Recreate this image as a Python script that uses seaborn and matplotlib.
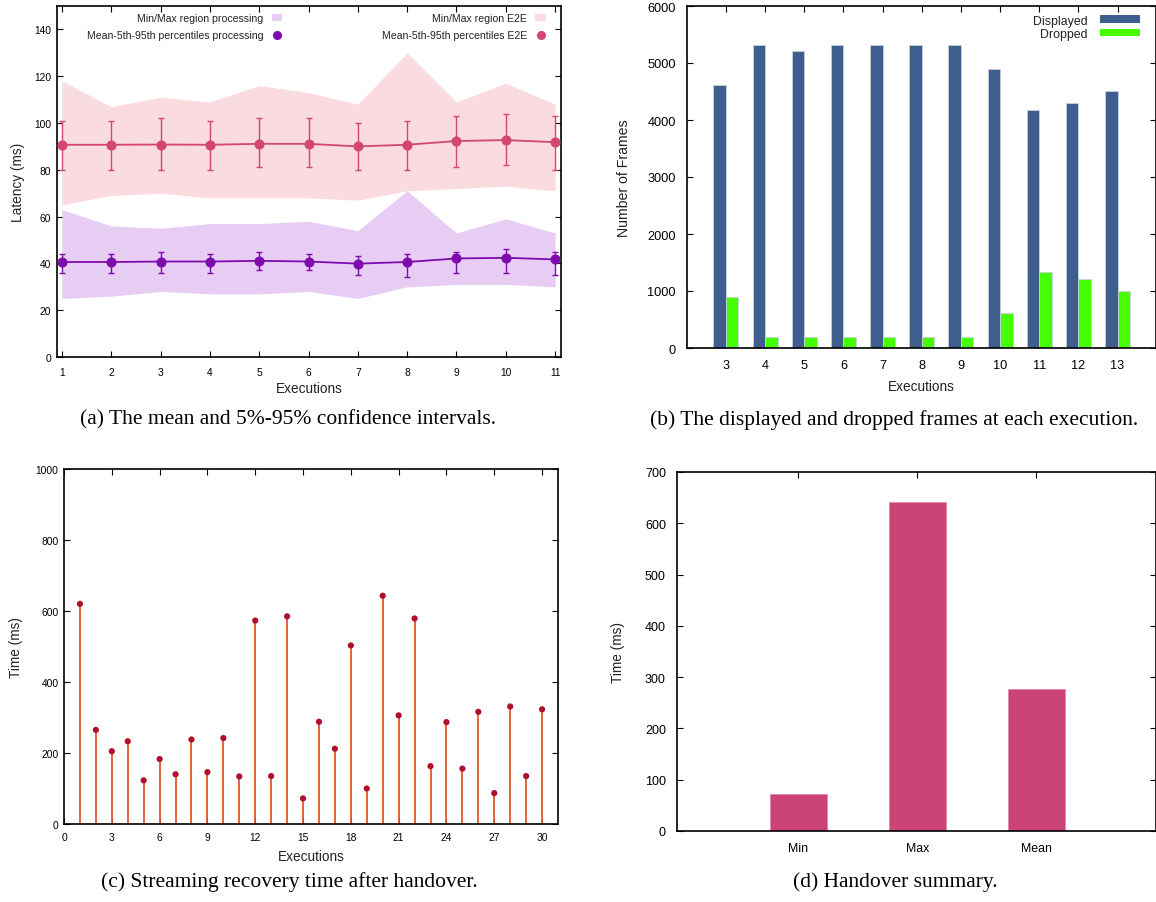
import numpy as np
import pandas as pd
import matplotlib
matplotlib.use("Agg")
import matplotlib.pyplot as plt
from matplotlib.patches import Patch, Rectangle
from matplotlib.lines import Line2D
import seaborn as sns

# ---------------- data ----------------
# (a) latency
exec_a = [1, 2, 3, 4, 5, 6, 7, 8, 9, 10, 11]
e2e_mean = [90.7, 90.7, 90.8, 90.7, 91.1, 91.1, 90.0, 90.7, 92.3, 92.7, 91.8]
e2e_p5 = [80, 80, 80, 80, 81, 81, 80, 80, 81, 82, 80]
e2e_p95 = [101, 101, 102, 101, 102, 102, 100, 101, 103, 104, 103]
e2e_min = [65, 69, 70, 68, 68, 68, 67, 71, 72, 73, 71]
e2e_max = [118, 107, 111, 109, 116, 113, 108, 130, 109, 117, 108]
proc_mean = [40.6, 40.6, 40.8, 40.8, 41.1, 40.8, 39.9, 40.6, 42.1, 42.4, 41.7]
proc_p5 = [36, 36, 36, 36, 37, 37, 35, 34, 36, 36, 35]
proc_p95 = [44, 44, 45, 44, 45, 44, 43, 44, 45, 46, 45]
proc_min = [25, 26, 28, 27, 27, 28, 25, 30, 31, 31, 30]
proc_max = [63, 56, 55, 57, 57, 58, 54, 71, 53, 59, 53]

# (b) frames
exec_b = ["3", "4", "5", "6", "7", "8", "9", "10", "11", "12", "13"]
displayed = [4610, 5310, 5210, 5310, 5310, 5310, 5310, 4890, 4180, 4290, 4510]
dropped = [890, 190, 185, 190, 190, 190, 190, 610, 1330, 1210, 1000]

# (c) recovery time
exec_c = list(range(1, 31))
recovery = [620, 265, 205, 233, 123, 183, 140, 238, 146, 242,
            134, 573, 135, 585, 72, 288, 212, 503, 100, 643,
            306, 579, 163, 287, 156, 316, 87, 331, 135, 323]

# (d) handover summary
summary_cats = ["Min", "Max", "Mean"]
summary_vals = [73, 642, 277]

# ---------------- style ----------------
sns.set_theme(style="ticks")
plt.rcParams["font.family"] = ["Liberation Sans", "DejaVu Sans"]
plt.rcParams.update({
    "xtick.direction": "in", "ytick.direction": "in",
    "xtick.top": True, "ytick.right": True,
    "axes.linewidth": 1.2, "axes.edgecolor": "black",
    "xtick.color": "black", "ytick.color": "black",
    "xtick.major.size": 4, "ytick.major.size": 4,
    "xtick.major.width": 0.8, "ytick.major.width": 0.8,
    "text.color": "#222222", "axes.labelcolor": "#222222",
})

W, H = 1156, 903
fig = plt.figure(figsize=(W / 100, H / 100), dpi=100)


def box(l, t, r, b):
    return [l / W, 1 - b / H, (r - l) / W, (b - t) / H]


cap_font = dict(family=["Liberation Serif", "DejaVu Serif"], fontsize=15.5, color="black")
LAB = 9.8

# ---------------- (a) ----------------
axa = fig.add_axes(box(57, 7, 561, 358))
c_e2e, f_e2e = "#d2466f", "#f9dbe0"
c_proc, f_proc = "#7d0aad", "#e7ccf3"
axa.fill_between(exec_a, e2e_min, e2e_max, color=f_e2e, lw=0, zorder=1)
axa.fill_between(exec_a, proc_min, proc_max, color=f_proc, lw=0, zorder=1)
for mean, lo, hi, col in [(e2e_mean, e2e_p5, e2e_p95, c_e2e),
                          (proc_mean, proc_p5, proc_p95, c_proc)]:
    m = np.array(mean)
    axa.errorbar(exec_a, m, yerr=[m - np.array(lo), np.array(hi) - m],
                 fmt="none", ecolor=col, elinewidth=1.0, capsize=2.5, capthick=1.0, zorder=3)
    sns.lineplot(x=exec_a, y=mean, color=col, marker="o", markersize=6.5,
                 markeredgecolor=col, linewidth=1.3, ax=axa, zorder=4)
axa.set_xlim(0.9, 11.12)
axa.set_ylim(0, 150)
axa.set_xticks(exec_a)
axa.set_yticks(range(0, 141, 20))
axa.tick_params(labelsize=7.4)
axa.tick_params(axis="x", pad=7)
axa.tick_params(axis="y", pad=4)
axa.set_xlabel("Executions", fontsize=LAB, labelpad=3)
axa.set_ylabel("Latency (ms)", fontsize=LAB, labelpad=7)
leg_kw = dict(markerfirst=False, frameon=False, fontsize=7.6, handlelength=1.0,
              handletextpad=0.8, labelspacing=0.65, borderaxespad=0.3)
h1 = [Patch(facecolor=f_proc, edgecolor="none"),
      Line2D([], [], color=c_proc, marker="o", linestyle="none", markersize=5.5)]
lg1 = axa.legend(h1, ["Min/Max region processing", "Mean-5th-95th percentiles processing"],
                 loc="upper right", bbox_to_anchor=(0.462, 1.0), **leg_kw)
axa.add_artist(lg1)
h2 = [Patch(facecolor=f_e2e, edgecolor="none"),
      Line2D([], [], color=c_e2e, marker="o", linestyle="none", markersize=5.5)]
axa.legend(h2, ["Min/Max region E2E", "Mean-5th-95th percentiles E2E"],
           loc="upper right", bbox_to_anchor=(0.985, 1.0), **leg_kw)
fig.text(288 / W, 1 - 420 / H, "(a) The mean and 5%-95% confidence intervals.",
         ha="center", va="center", **cap_font)

# ---------------- (b) ----------------
axb = fig.add_axes(box(687, 7, 1155.5, 349))
df_b = pd.DataFrame({
    "Execution": exec_b * 2,
    "Frames": displayed + dropped,
    "Type": ["Displayed"] * len(exec_b) + ["Dropped"] * len(exec_b),
})
c_disp, c_drop = "#3e5f8e", "#46ff00"
sns.barplot(data=df_b, x="Execution", y="Frames", hue="Type", order=exec_b,
            palette={"Displayed": c_disp, "Dropped": c_drop}, width=0.64, saturation=1,
            edgecolor="#c8d0dc", linewidth=0.6, legend=False, ax=axb, zorder=2)
axb.set_xlim(-0.995, 10.97)
axb.set_ylim(0, 6000)
axb.set_yticks(range(0, 6001, 1000))
axb.tick_params(labelsize=9.2)
axb.tick_params(axis="x", length=4, pad=8)
axb.tick_params(axis="y", pad=8)
axb.set_xlabel("Executions", fontsize=LAB, labelpad=6)
axb.set_ylabel("Number of Frames", fontsize=10.2, labelpad=12)
hb = [Rectangle((0, 0), 1, 1, facecolor=c_disp, edgecolor="none"),
      Rectangle((0, 0), 1, 1, facecolor=c_drop, edgecolor="none")]
axb.legend(hb, ["Displayed", "Dropped"], markerfirst=False, frameon=False,
           fontsize=8.9, handlelength=3.2, handleheight=0.6, handletextpad=1.0,
           labelspacing=0.1, loc="upper right", bbox_to_anchor=(0.985, 1.0), borderaxespad=0.3)
fig.text(894 / W, 1 - 420 / H, "(b) The displayed and dropped frames at each execution.",
         ha="center", va="center", **cap_font)

# ---------------- (c) ----------------
axc = fig.add_axes(box(64, 470, 558, 825))
axc.vlines(exec_c, 0, recovery, color="#e3582b", linewidth=1.3, zorder=2)
sns.scatterplot(x=exec_c, y=recovery, color="#b0102a", s=20, edgecolor="none", ax=axc, zorder=3)
axc.set_xlim(0, 31)
axc.set_ylim(0, 1000)
axc.set_xticks(range(0, 31, 3))
axc.set_yticks(range(0, 1001, 200))
axc.tick_params(labelsize=7.4, pad=4)
axc.tick_params(axis="x", pad=6)
axc.set_xlabel("Executions", fontsize=LAB, labelpad=5)
axc.set_ylabel("Time (ms)", fontsize=LAB, labelpad=9)
fig.text(289 / W, 1 - 882 / H, "(c) Streaming recovery time after handover.",
         ha="center", va="center", **cap_font)

# ---------------- (d) ----------------
axd = fig.add_axes(box(677, 473, 1155.5, 832))
sns.barplot(x=summary_cats, y=summary_vals, order=summary_cats, color="#cc4477",
            saturation=1, width=0.48, edgecolor="#e08aaa", linewidth=0.6, ax=axd, zorder=2)
axd.set_xlim(-1.02, 3.0)
axd.set_ylim(0, 700)
axd.set_yticks(range(0, 701, 100))
axd.tick_params(axis="y", labelsize=9, pad=8)
axd.tick_params(axis="x", labelsize=8.9, pad=8)
axd.set_xlabel("")
axd.set_ylabel("Time (ms)", fontsize=LAB, labelpad=14)
fig.text(895 / W, 1 - 882 / H, "(d) Handover summary.",
         ha="center", va="center", **cap_font)

fig.savefig("out.png", dpi=100)
